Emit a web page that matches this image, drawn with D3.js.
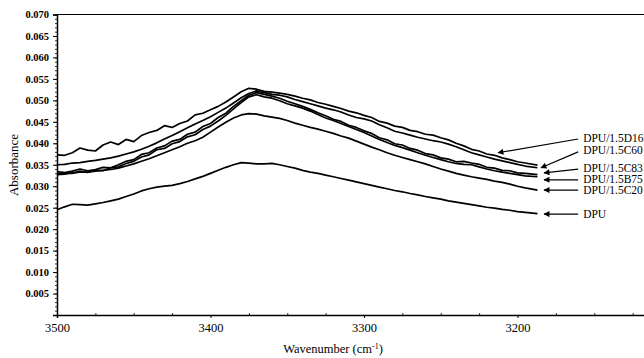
<!DOCTYPE html>
<html><head><meta charset="utf-8">
<script src="https://cdn.jsdelivr.net/npm/d3@7"></script>
<style>
html,body{margin:0;padding:0;background:#fff;}
svg{display:block;}
text{font-family:"Liberation Serif","Times New Roman",serif;fill:#000;}
</style></head>
<body>
<svg id="chart" width="644" height="358"></svg>
<script>
// Wavenumber (cm-1)
const wavenumbers = [3500,3495,3490,3485,3480,3475,3470,3465,3460,3455,3450,3445,3440,3435,3430,3425,3420,3415,3410,3405,3400,3395,3390,3385,3380,3375,3370,3365,3360,3355,3350,3345,3340,3335,3330,3325,3320,3315,3310,3305,3300,3295,3290,3285,3280,3275,3270,3265,3260,3255,3250,3245,3240,3235,3230,3225,3220,3215,3210,3205,3200,3195,3187];

const seriesNames = ["DPU/1.5D16","DPU/1.5C60","DPU/1.5C83","DPU/1.5B75","DPU/1.5C20","DPU"];

const absD16 = [.0373,.0372,.0378,.0389,.0384,.0382,.0396,.0403,.0397,.0409,.0404,.0418,.0425,.0430,.0441,.0437,.0446,.0452,.0466,.0470,.0478,.0486,.0496,.0508,.0520,.0528,.0526,.0521,.0519,.0517,.0514,.0510,.0505,.0501,.0495,.0491,.0486,.0481,.0475,.0471,.0465,.0460,.0451,.0447,.0440,.0437,.0430,.0427,.0421,.0419,.0413,.0408,.0400,.0394,.0386,.0382,.0375,.0372,.0366,.0362,.0357,.0354,.0349];
const absC60 = [.0350,.0351,.0354,.0355,.0358,.0360,.0363,.0366,.0370,.0375,.0380,.0386,.0393,.0401,.0410,.0418,.0427,.0436,.0445,.0453,.0462,.0472,.0482,.0494,.0506,.0516,.0522,.0518,.0514,.0512,.0508,.0502,.0497,.0492,.0487,.0482,.0478,.0473,.0466,.0460,.0457,.0452,.0443,.0436,.0428,.0424,.0419,.0414,.0410,.0406,.0403,.0398,.0392,.0385,.0378,.0373,.0368,.0363,.0359,.0355,.0351,.0347,.0343];
const absC83 = [.0334,.0332,.0335,.0340,.0336,.0339,.0344,.0343,.0350,.0358,.0362,.0374,.0378,.0389,.0394,.0405,.0409,.0421,.0426,.0439,.0446,.0460,.0470,.0486,.0499,.0512,.0518,.0514,.0510,.0505,.0498,.0492,.0486,.0479,.0471,.0464,.0456,.0451,.0442,.0437,.0429,.0423,.0413,.0408,.0399,.0396,.0388,.0384,.0376,.0373,.0366,.0363,.0357,.0358,.0354,.0351,.0344,.0342,.0337,.0336,.0331,.0330,.0327];
const absB75 = [.0329,.0331,.0330,.0335,.0332,.0338,.0336,.0343,.0345,.0353,.0358,.0368,.0373,.0385,.0388,.0399,.0404,.0415,.0420,.0432,.0440,.0452,.0465,.0480,.0495,.0508,.0513,.0508,.0505,.0499,.0492,.0487,.0482,.0475,.0467,.0459,.0453,.0446,.0439,.0432,.0425,.0417,.0409,.0402,.0395,.0390,.0384,.0378,.0372,.0367,.0362,.0357,.0353,.0351,.0350,.0345,.0340,.0336,.0333,.0330,.0327,.0324,.0322];
const absC20 = [.0327,.0328,.0331,.0333,.0333,.0335,.0337,.0339,.0342,.0347,.0352,.0358,.0364,.0371,.0378,.0385,.0392,.0400,.0406,.0414,.0426,.0438,.0449,.0459,.0466,.0469,.0468,.0464,.0461,.0458,.0453,.0447,.0442,.0437,.0433,.0428,.0423,.0417,.0412,.0405,.0398,.0391,.0385,.0378,.0372,.0367,.0362,.0357,.0352,.0346,.0340,.0335,.0330,.0326,.0322,.0319,.0316,.0312,.0309,.0305,.0300,.0296,.0291];
const absDPU = [.0245,.0252,.0258,.0257,.0256,.0259,.0262,.0266,.0270,.0276,.0282,.0289,.0294,.0298,.0300,.0302,.0306,.0311,.0317,.0323,.0330,.0337,.0344,.0350,.0355,.0354,.0352,.0352,.0353,.0350,.0346,.0342,.0337,.0333,.0330,.0326,.0322,.0318,.0314,.0310,.0306,.0302,.0298,.0294,.0290,.0287,.0283,.0280,.0276,.0273,.0270,.0266,.0263,.0260,.0257,.0254,.0251,.0249,.0246,.0244,.0241,.0239,.0236];

const yTickValues = [0.005,0.010,0.015,0.020,0.025,0.030,0.035,0.040,0.045,0.050,0.055,0.060,0.065,0.070];
const xTickValues = [3500,3400,3300,3200];

// annotation anchors in data coordinates: [label, tailW, tailA, tipW, tipA, labelA]
const annotations = [
  ["DPU/1.5D16", 3160.5, 0.0410, 3212.7, 0.0378, 0.0412],
  ["DPU/1.5C60", 3160.5, 0.0380, 3184.7, 0.0343, 0.0385],
  ["DPU/1.5C83", 3160.5, 0.0340, 3182.7, 0.0331, 0.0343],
  ["DPU/1.5B75", 3160.5, 0.0315, 3182.7, 0.0315, 0.0317],
  ["DPU/1.5C20", 3160.5, 0.0291, 3182.7, 0.0291, 0.0291],
  ["DPU",        3160.5, 0.0235, 3182.7, 0.0235, 0.0235]
];

const series = [absD16, absC60, absC83, absB75, absC20, absDPU];

const svg = d3.select("#chart");
const x = d3.scaleLinear().domain([3500, 3100]).range([57, 671]);
const y = d3.scaleLinear().domain([0, 0.070]).range([315, 14.5]);

// top border
svg.append("line").attr("x1", 57).attr("x2", 644).attr("y1", y(0.070)).attr("y2", y(0.070))
  .attr("stroke", "#000").attr("stroke-width", 1.2);

// y minor ticks
const yMinor = svg.append("g").attr("transform", "translate(57,0)")
  .call(d3.axisLeft(y).ticks(70).tickSize(2).tickFormat(""));
yMinor.select(".domain").remove();
yMinor.selectAll("line").attr("stroke", "#000").attr("stroke-width", 0.8);

// y axis
const yAxis = svg.append("g").attr("transform", "translate(57,0)")
  .call(d3.axisLeft(y).tickValues(yTickValues).tickSize(4).tickPadding(4).tickFormat(d3.format(".3f")));
yAxis.select(".domain").attr("stroke", "#000").attr("stroke-width", 1.5);
yAxis.selectAll("line").attr("stroke", "#000");
yAxis.selectAll("text").attr("font-family", "Liberation Serif").attr("font-size", 10.5).attr("font-weight", "bold");

// x minor ticks
const xMinorVals = [3475,3450,3425,3375,3350,3325,3275,3250,3225,3175,3150,3125];
const xMinor = svg.append("g").attr("transform", "translate(0,315)")
  .call(d3.axisBottom(x).tickValues(xMinorVals).tickSize(-2).tickFormat(""));
xMinor.select(".domain").remove();
xMinor.selectAll("line").attr("stroke", "#000").attr("stroke-width", 0.8);

// x axis
const xAxis = svg.append("g").attr("transform", "translate(0,315)")
  .call(d3.axisBottom(x).tickValues(xTickValues).tickSize(3).tickPadding(5).tickFormat(d3.format("d")));
xAxis.select(".domain").attr("stroke", "#000").attr("stroke-width", 1.5);
xAxis.selectAll("line").attr("stroke", "#000");
xAxis.selectAll("text").attr("font-family", "Liberation Serif").attr("font-size", 12.5);

// axis titles
svg.append("text").attr("transform", "translate(18,165) rotate(-90)")
  .attr("text-anchor", "middle").attr("font-size", 13).text("Absorbance");
const xt = svg.append("text").attr("x", 333).attr("y", 353).attr("text-anchor", "middle").attr("font-size", 12.5);
xt.append("tspan").text("Wavenumber (cm");
xt.append("tspan").attr("font-size", 8).attr("dy", -4).text("-1");
xt.append("tspan").attr("dy", 4).text(")");

// curves
const line = d3.line().x((d, i) => x(wavenumbers[i])).y(d => y(d)).curve(d3.curveLinear);
svg.append("g").selectAll("path").data(series).join("path")
  .attr("d", d => line(d)).attr("fill", "none").attr("stroke", "#000")
  .attr("stroke-width", 1.7).attr("stroke-linejoin", "round");

// arrows
svg.append("defs").append("marker").attr("id", "ah").attr("viewBox", "0 0 10 10")
  .attr("refX", 9).attr("refY", 5).attr("markerWidth", 9).attr("markerHeight", 6)
  .attr("markerUnits", "userSpaceOnUse").attr("orient", "auto")
  .append("path").attr("d", "M0,0 L10,5 L0,10 Z").attr("fill", "#000");

const ann = svg.append("g");
annotations.forEach(a => {
  ann.append("line").attr("x1", x(a[1])).attr("y1", y(a[2])).attr("x2", x(a[3])).attr("y2", y(a[4]))
    .attr("stroke", "#000").attr("stroke-width", 1.2).attr("marker-end", "url(#ah)");
  ann.append("text").attr("x", x(a[1]) + 5).attr("y", y(a[5])).attr("dy", "0.35em")
    .attr("font-size", 11.5).text(a[0]);
});
</script>
</body></html>
